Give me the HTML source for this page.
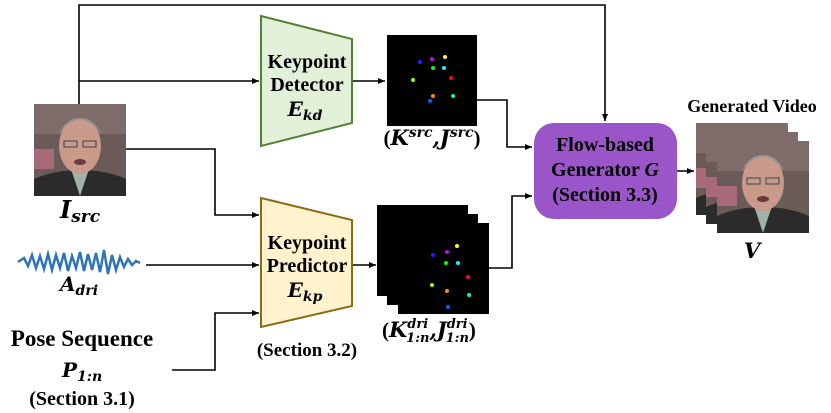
<!DOCTYPE html>
<html><head><meta charset="utf-8"><style>
html,body{margin:0;padding:0;background:#fff;width:831px;height:413px;overflow:hidden}
svg{display:block}
text{font-family:"Liberation Serif",serif;font-weight:bold;fill:#000}
.m{font-family:"DejaVu Serif",serif;font-style:italic;font-weight:bold}
</style></head><body>
<svg width="831" height="413" viewBox="0 0 831 413" xmlns="http://www.w3.org/2000/svg">
<defs>
<marker id="a" markerWidth="8" markerHeight="8" refX="7" refY="4" orient="auto" markerUnits="userSpaceOnUse"><path d="M0,1 L7,4 L0,7 z" fill="#000"/></marker>
<g id="face">
<rect x="0" y="0" width="92" height="92" fill="#6a5a58"/>
<rect x="0" y="0" width="92" height="30" fill="#7d6c6a"/>
<rect x="0" y="45" width="20" height="20" fill="#a86a78"/>
<path d="M0,92 L0,75 Q20,66 46,66 Q72,66 92,75 L92,92 z" fill="#2b2b2b"/>
<path d="M38,68 L46,92 L54,68 z" fill="#9fb3a6"/>
<ellipse cx="46" cy="42" rx="21" ry="28" fill="#c9998a"/>
<path d="M25,30 Q46,2 67,30 Q60,14 46,14 Q32,14 25,30z" fill="#9a9490"/>
<rect x="30" y="37" width="13" height="6" fill="none" stroke="#555" stroke-width="1.2"/>
<rect x="49" y="37" width="13" height="6" fill="none" stroke="#555" stroke-width="1.2"/>
<ellipse cx="46" cy="58" rx="6" ry="3" fill="#6a3a3a"/>
</g>
</defs>

<g stroke="#000" stroke-width="1.6" fill="none">
<polyline points="79,104 79,5 605,5 605,121" marker-end="url(#a)"/>
<polyline points="79,81 259,81" marker-end="url(#a)"/>
<polyline points="352,81 385,81" marker-end="url(#a)"/>
<polyline points="477,100 507,100 507,147 532,147" marker-end="url(#a)"/>
<polyline points="126,149 215,149 215,215 259,215" marker-end="url(#a)"/>
<polyline points="146,265 259,265" marker-end="url(#a)"/>
<polyline points="172,370 215,370 215,313 259,313" marker-end="url(#a)"/>
<polyline points="352,265 376,265" marker-end="url(#a)"/>
<polyline points="489,268 512,268 512,196 532,196" marker-end="url(#a)"/>
<polyline points="677,171 694,171" marker-end="url(#a)"/>
</g>

<polygon points="261,16 352,39 352,123 261,146" fill="#e2efd9" stroke="#548235" stroke-width="2"/>
<text x="307" y="68" font-size="20" text-anchor="middle">Keypoint</text>
<text x="307" y="91" font-size="20" text-anchor="middle">Detector</text>
<text x="305" y="116" font-size="20" text-anchor="middle" class="m">E<tspan font-size="14" dy="4">kd</tspan></text>

<polygon points="261,198 352,220 352,306 261,327" fill="#fff2cc" stroke="#8b6a12" stroke-width="2"/>
<text x="307" y="249" font-size="20" text-anchor="middle">Keypoint</text>
<text x="307" y="272" font-size="20" text-anchor="middle">Predictor</text>
<text x="305" y="297" font-size="20" text-anchor="middle" class="m">E<tspan font-size="14" dy="4">kp</tspan></text>
<text x="307" y="356" font-size="19" text-anchor="middle">(Section 3.2)</text>

<rect x="387" y="35" width="90" height="91" fill="#000"/>
<g>
<circle cx="432" cy="59" r="2" fill="#c0f"/><circle cx="445" cy="57" r="2" fill="#ff0"/>
<circle cx="420" cy="62" r="2" fill="#22f"/><circle cx="433" cy="68" r="2" fill="#0f0"/>
<circle cx="444" cy="68" r="2" fill="#0ff"/><circle cx="451" cy="78" r="2" fill="#f03"/>
<circle cx="413" cy="80" r="2" fill="#9f0"/><circle cx="433" cy="96" r="2" fill="#f80"/>
<circle cx="453" cy="96" r="2" fill="#0f9"/><circle cx="430" cy="101" r="2" fill="#06f"/>
</g>
<text x="432" y="145" font-size="21" text-anchor="middle"><tspan>(</tspan><tspan class="m">K</tspan><tspan class="m" font-size="14" dy="-8">src</tspan><tspan class="m" dy="8">,J</tspan><tspan class="m" font-size="14" dy="-8">src</tspan><tspan dy="8">)</tspan></text>

<rect x="377" y="205" width="91" height="91" fill="#000"/>
<rect x="387" y="214" width="91" height="91" fill="#000"/>
<rect x="398" y="223" width="91" height="91" fill="#000"/>
<g>
<circle cx="447" cy="252" r="2" fill="#c0f"/><circle cx="457" cy="246" r="2" fill="#ff0"/>
<circle cx="433" cy="255" r="2" fill="#22f"/><circle cx="446" cy="263" r="2" fill="#0f0"/>
<circle cx="458" cy="263" r="2" fill="#0ff"/><circle cx="468" cy="277" r="2" fill="#f03"/>
<circle cx="432" cy="285" r="2" fill="#9f0"/><circle cx="447" cy="291" r="2" fill="#f80"/>
<circle cx="469" cy="295" r="2" fill="#0f9"/><circle cx="448" cy="307" r="2" fill="#06f"/>
</g>
<text x="382" y="337" font-size="21"><tspan>(</tspan><tspan class="m">K</tspan><tspan class="m" font-size="13" dy="-9">dri</tspan><tspan class="m" font-size="13" dx="-22" dy="14">1:n</tspan><tspan class="m" dy="-5">,J</tspan><tspan class="m" font-size="13" dy="-9">dri</tspan><tspan class="m" font-size="13" dx="-22" dy="14">1:n</tspan><tspan dy="-5">)</tspan></text>

<rect x="534" y="123" width="143" height="96" rx="20" fill="#9a55c8"/>
<text x="605" y="151" font-size="20" text-anchor="middle">Flow-based</text>
<text x="605" y="176" font-size="20" text-anchor="middle">Generator <tspan font-style="italic">G</tspan></text>
<text x="605" y="201" font-size="20" text-anchor="middle">(Section 3.3)</text>

<use href="#face" x="34" y="104"/>
<text x="60" y="218" font-size="24" class="m">I<tspan font-size="17" dy="4">src</tspan></text>

<text x="752" y="112" font-size="18" text-anchor="middle">Generated Video</text>
<use href="#face" x="696" y="123"/>
<use href="#face" x="706" y="132"/>
<use href="#face" x="717" y="141"/>
<text x="752" y="258" font-size="21" text-anchor="middle" class="m">V</text>

<path d="M18,262 L24,258 L28,266 L32,255 L36,268 L40,256 L44,269 L48,254 L52,270 L56,255 L60,268 L64,253 L68,271 L72,256 L76,268 L80,252 L84,271 L88,254 L92,270 L96,253 L100,272 L104,250 L108,274 L112,255 L116,270 L120,257 L124,267 L128,259 L132,265 L136,261 L140,263" fill="none" stroke="#2e75b6" stroke-width="2.5"/>
<text x="60" y="291" font-size="20" class="m">A<tspan font-size="14" dy="4">dri</tspan></text>

<text x="82" y="346" font-size="23" text-anchor="middle">Pose Sequence</text>
<text x="62" y="377" font-size="20" class="m">P<tspan font-size="14" dy="4">1:n</tspan></text>
<text x="82" y="405" font-size="20" text-anchor="middle">(Section 3.1)</text>
</svg>
</body></html>
